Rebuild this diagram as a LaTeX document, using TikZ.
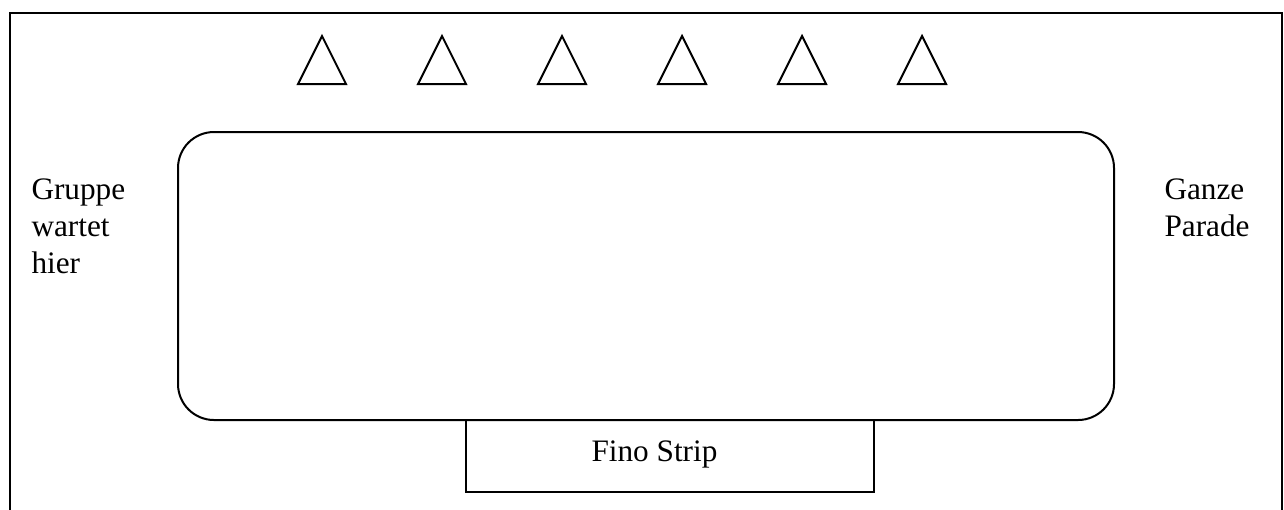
\documentclass[tikz,border=0pt]{standalone}
\usepackage{fontspec}
\setmainfont{Liberation Serif}
\begin{document}
\begin{tikzpicture}[x=0.4pt,y=-0.4pt,
  line/.style={line width=0.8pt,line join=miter},
  lbl/.style={anchor=base west,inner sep=0pt,font=\fontsize{12.5}{14.8}\selectfont,align=left}]
\useasboundingbox (0,0) rectangle (1284,509);
% outer frame (open at bottom)
\draw[line] (10,515) -- (10,12.5) -- (1282,12.5) -- (1282,515);
% field
\draw[line,rounded corners=14.4pt] (178,132) rectangle (1114,420);
% Fino strip box
\draw[line] (466,420) -- (466,492) -- (874,492) -- (874,420);
\node[lbl] (fino) at (591,461) {Fino Strip};
% triangles
\foreach \cx in {322,442,562,682,802,922}{
  \draw[line] (\cx,36) -- (\cx+24,84) -- (\cx-24,84) -- cycle;
}
% labels (base anchor = baseline of the last line)
\node[lbl] (gruppe) at (31,273) {Gruppe\\wartet\\hier};
\node[lbl] (ganze) at (1164,236) {Ganze\\Parade};
\end{tikzpicture}
\end{document}
